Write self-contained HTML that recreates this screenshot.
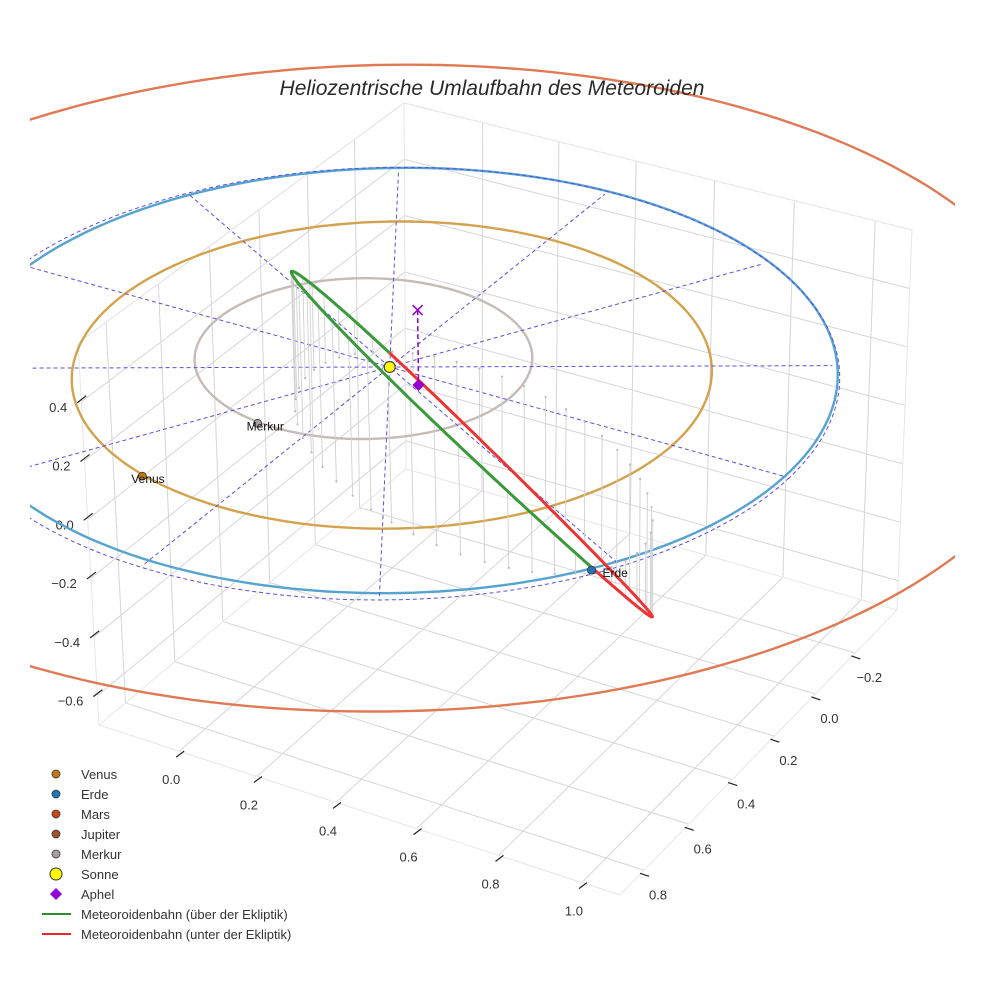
<!DOCTYPE html>
<html><head><meta charset="utf-8">
<style>
html,body{margin:0;padding:0;background:#fff;}
svg{display:block;font-family:"Liberation Sans",sans-serif;}
</style></head>
<body>
<svg id="chart" width="984" height="984" viewBox="0 0 984 984" xmlns="http://www.w3.org/2000/svg">
<defs><clipPath id="sceneClip"><rect x="30" y="0" width="925" height="984"/></clipPath></defs>
<rect width="984" height="984" fill="#fff"/>
<g id="axes"></g>
<g id="scene" clip-path="url(#sceneClip)"></g>
<text x="492" y="95" text-anchor="middle" font-size="21" font-style="italic" fill="#2a2a2a">Heliozentrische Umlaufbahn des Meteoroiden</text>
<g id="legend"></g>
</svg>
<script>
// ---- data ----
const xTicks = [0, 0.2, 0.4, 0.6, 0.8, 1.0];
const yTicks = [-0.2, 0, 0.2, 0.4, 0.6, 0.8];
const zTicks = [-0.6, -0.4, -0.2, 0, 0.2, 0.4];
const xTickLabels = ["0.0", "0.2", "0.4", "0.6", "0.8", "1.0"];
const yTickLabels = ["\u22120.2", "0.0", "0.2", "0.4", "0.6", "0.8"];
const zTickLabels = ["\u22120.6", "\u22120.4", "\u22120.2", "0.0", "0.2", "0.4"];
const zGrid = [-0.6, -0.4, -0.2, 0, 0.2, 0.4, 0.6];
const xRange = [-0.21, 1.09];
const yRange = [-0.415, 0.905];
const zRange = [-0.7, 0.6];

const planetNames = ["Merkur", "Venus", "Erde", "Mars"];
const planetA = [0.387, 0.723, 1.0, 1.524];
const planetE = [0.2056, 0.0068, 0.0167, 0.05];
const planetVarpi = [10, 131, 103, 59];
const planetLon = [108, 107, 33.6, 200];
const orbitColors = ["#c4bcb8", "#d4a24c", "#56a3cf", "#e07a55"];
const markerColors = ["#a8a0a0", "#c07a10", "#1f77b4", "#c8481a"];
const showLabel = [true, true, true, false];

const radialAngles = [0, 30, 60, 90, 120, 150];
const radialRadius = 1.0;
const refCircleRadius = 1.015;

const meteorCenter = [0.37, 0.27, 0.06];
const meteorU = [0.41, -0.058, -0.45];
const meteorV = [0.307, 0.362, 0.196];

const sunPos = [0, 0, 0];
const aphelPos = [0.10, 0.04, 0];
const aphelMarkPos = [0.10, 0.04, 0.26];

// ---- projection (box corners on screen, perspective homography) ----
const F = {A:[406,469], B:[897,610], C:[620,895], D:[99,725]};
const T = {A:[404,103], B:[912,230], C:[615,495], D:[78,343]};
function homog(Q){
  const [x0,y0]=Q.A,[x1,y1]=Q.B,[x2,y2]=Q.C,[x3,y3]=Q.D;
  const dx1=x1-x2,dx2=x3-x2,dx3=x0-x1+x2-x3,dy1=y1-y2,dy2=y3-y2,dy3=y0-y1+y2-y3;
  const den=dx1*dy2-dy1*dx2;
  const g=(dx3*dy2-dy3*dx2)/den, h=(dx1*dy3-dy1*dx3)/den;
  return {a:x1-x0+g*x1,b:x3-x0+h*x3,c:x0,d:y1-y0+g*y1,e:y3-y0+h*y3,f:y0,g,h};
}
const HF=homog(F), HT=homog(T);
function ap(H,u,v){const w=H.g*u+H.h*v+1;return [(H.a*u+H.b*v+H.c)/w,(H.d*u+H.e*v+H.f)/w];}
function proj(x,y,z){
  const u=(x-xRange[0])/(xRange[1]-xRange[0]);
  const v=(y-yRange[0])/(yRange[1]-yRange[0]);
  const w=(z-zRange[0])/(zRange[1]-zRange[0]);
  const f=ap(HF,u,v), t=ap(HT,u,v);
  return [f[0]+w*(t[0]-f[0]), f[1]+w*(t[1]-f[1])];
}
const NS="http://www.w3.org/2000/svg";
function mk(tag,attrs,parent){const e=document.createElementNS(NS,tag);for(const k in attrs)e.setAttribute(k,attrs[k]);parent.appendChild(e);return e;}
function line3(p,q,attrs,parent){const a=proj(...p),b=proj(...q);return mk('line',Object.assign({x1:a[0],y1:a[1],x2:b[0],y2:b[1]},attrs),parent);}
function pathFrom(pts){return pts.map((p,i)=>(i?'L':'M')+p[0].toFixed(1)+' '+p[1].toFixed(1)).join(' ');}

const scene=document.getElementById('scene');
const axes=document.getElementById('axes');
const [x0,x1]=xRange,[y0,y1]=yRange,[z0,z1]=zRange;
const gridStyle={stroke:'#d6d6d6','stroke-width':1};

// grid
const grid=mk('g',{},axes);


xTicks.forEach(xt=>{
  let l=line3([xt,y0,z0],[xt,y1,z0],gridStyle,grid);
  
  
  l=line3([xt,y0,z0],[xt,y0,z1],gridStyle,grid);
  
  
});
yTicks.forEach(yt=>{
  let l=line3([x0,yt,z0],[x1,yt,z0],gridStyle,grid);
  
  
  l=line3([x0,yt,z0],[x0,yt,z1],gridStyle,grid);
  
  
});
zGrid.forEach(zt=>{
  let l=line3([x0,y0,zt],[x0,y1,zt],gridStyle,grid);
  
  
  l=line3([x0,y0,zt],[x1,y0,zt],gridStyle,grid);
  
  
});
const edgeStyle={stroke:'#e6e6e6','stroke-width':1};
[[[x0,y0,z0],[x1,y0,z0]],[[x0,y0,z0],[x0,y1,z0]],[[x1,y0,z0],[x1,y1,z0]],[[x0,y1,z0],[x1,y1,z0]],
 [[x0,y0,z0],[x0,y0,z1]],[[x1,y0,z0],[x1,y0,z1]],[[x0,y1,z0],[x0,y1,z1]],
 [[x0,y0,z1],[x1,y0,z1]],[[x0,y0,z1],[x0,y1,z1]]].forEach(e=>{
  const l=line3(e[0],e[1],edgeStyle,grid);
  
  
});

// ticks
const tickStyle={stroke:'#222','stroke-width':1.2};
xTicks.forEach((xt,i)=>{
  const e=proj(xt,y1,z0);
  let l=mk('line',Object.assign({x1:e[0]-3,y1:e[1]+6,x2:e[0]+5,y2:e[1]},tickStyle),axes);
  
  
  const t=mk('text',{x:e[0]-8,y:e[1]+33,'text-anchor':'middle','font-size':13,fill:'#333'},axes);
  t.textContent=xTickLabels[i];
  
  
});
yTicks.forEach((yt,i)=>{
  const e=proj(x1,yt,z0);
  let l=mk('line',Object.assign({x1:e[0]-4,y1:e[1]+3,x2:e[0]+5,y2:e[1]+6},tickStyle),axes);
  
  
  const t=mk('text',{x:e[0]+14,y:e[1]+29,'text-anchor':'middle','font-size':13,fill:'#333'},axes);
  t.textContent=yTickLabels[i];
  
  
});
zTicks.forEach((zt,i)=>{
  const e=proj(x0,y1,zt);
  let l=mk('line',Object.assign({x1:e[0]+5,y1:e[1]-6,x2:e[0]-4,y2:e[1]+1},tickStyle),axes);
  
  
  const t=mk('text',{x:e[0]-14,y:e[1]+10,'text-anchor':'end','font-size':13,fill:'#333'},axes);
  t.textContent=zTickLabels[i];
  
  
});

// orbits
function orbitPts(a,e,varpi,n){
  const b=a*Math.sqrt(1-e*e), w=varpi*Math.PI/180, pts=[];
  for(let i=0;i<=n;i++){const E=2*Math.PI*i/n;const xo=a*Math.cos(E)-a*e, yo=b*Math.sin(E);
    pts.push(proj(xo*Math.cos(w)-yo*Math.sin(w), xo*Math.sin(w)+yo*Math.cos(w), 0));}
  return pts;
}
planetNames.forEach((nm,i)=>{
  const p=mk('path',{d:pathFrom(orbitPts(planetA[i],planetE[i],planetVarpi[i],240)),fill:'none',stroke:orbitColors[i],'stroke-width':2.4},scene);
  
  
});
const rc=[];for(let i=0;i<=240;i++){const t=2*Math.PI*i/240;rc.push(proj(refCircleRadius*Math.cos(t),refCircleRadius*Math.sin(t),0));}
let refc=mk('path',{d:pathFrom(rc),fill:'none',stroke:'#5a4fe0','stroke-width':1,'stroke-dasharray':'4,3'},scene);


radialAngles.forEach(ang=>{
  const r=ang*Math.PI/180;
  const l=line3([radialRadius*Math.cos(r),radialRadius*Math.sin(r),0],[-radialRadius*Math.cos(r),-radialRadius*Math.sin(r),0],{stroke:'#5a4fe0','stroke-width':1,'stroke-dasharray':'4,3'},scene);
  
  
});

// meteoroid orbit
function mpt(t){return [0,1,2].map(k=>meteorCenter[k]+meteorU[k]*Math.cos(t)+meteorV[k]*Math.sin(t));}
const drops=mk('g',{},scene);


for(let i=0;i<48;i++){
  const p=mpt(2*Math.PI*i/48);
  const l=line3(p,[p[0],p[1],0],{stroke:'#d0d0d0','stroke-width':0.9},drops);
  
  
  const f=proj(p[0],p[1],0);
  const d=mk('circle',{cx:f[0],cy:f[1],r:1.1,fill:'#bbb'},drops);
  
  
}
let segs=[],cur=null;
for(let i=0;i<=360;i++){
  const p=mpt(2*Math.PI*i/360), above=p[2]>=0;
  if(!cur||cur.above!==above){ if(cur) cur.pts.push(proj(...p)); cur={above,pts:[]}; segs.push(cur);}
  cur.pts.push(proj(...p));
}
segs.forEach(s=>{
  const p=mk('path',{d:pathFrom(s.pts),fill:'none',stroke:s.above?'#3a9a3a':'#ee3333','stroke-width':3,'stroke-linejoin':'round'},scene);
  
  
});

// planets
planetNames.forEach((nm,i)=>{
  const L=planetLon[i]*Math.PI/180, r=planetA[i];
  const s=proj(r*Math.cos(L),r*Math.sin(L),0);
  const c=mk('circle',{cx:s[0],cy:s[1],r:4,fill:markerColors[i],stroke:'#333','stroke-width':0.8},scene);
  
  
  if(showLabel[i]){
    const t=mk('text',{x:s[0]-(nm==='Erde'?-11:11),y:s[1]+7,'font-size':12,fill:'#111'},scene);
    t.textContent=nm;
    
    
  }
});
// aphel
const apx=proj(...aphelPos), am=proj(...aphelMarkPos);
let al=mk('line',{x1:am[0],y1:am[1],x2:apx[0],y2:apx[1],stroke:'#9400d3','stroke-width':1.5,'stroke-dasharray':'5,3'},scene);


let ax=mk('path',{d:`M${am[0]-5} ${am[1]-5}L${am[0]+5} ${am[1]+5}M${am[0]+5} ${am[1]-5}L${am[0]-5} ${am[1]+5}`,stroke:'#9400d3','stroke-width':1.5},scene);


let ad=mk('path',{d:`M${apx[0]} ${apx[1]-6}L${apx[0]+6} ${apx[1]}L${apx[0]} ${apx[1]+6}L${apx[0]-6} ${apx[1]}Z`,fill:'#9400d3'},scene);


// sun
const sp=proj(...sunPos);
let sc=mk('circle',{cx:sp[0],cy:sp[1],r:5.5,fill:'#ffff00',stroke:'#444','stroke-width':1.2},scene);



// legend
const legend=document.getElementById('legend');
const legItems=[
 ['Venus','dot','#c07a10'],['Erde','dot','#1f77b4'],['Mars','dot','#c8481a'],['Jupiter','dot','#a0522d'],
 ['Merkur','dot','#a8a0a0'],['Sonne','sun','#ffff00'],['Aphel','diamond','#9400d3'],
 ['Meteoroidenbahn (über der Ekliptik)','line','#2e8b2e'],['Meteoroidenbahn (unter der Ekliptik)','line','#e8262b']];
legItems.forEach((it,i)=>{
  const y=774+i*20;
  const g=mk('g',{},legend);
  
  
  if(it[1]==='dot') mk('circle',{cx:56,cy:y,r:4,fill:it[2],stroke:'#333','stroke-width':0.8},g);
  else if(it[1]==='sun') mk('circle',{cx:56,cy:y,r:6,fill:it[2],stroke:'#333','stroke-width':1},g);
  else if(it[1]==='diamond') mk('path',{d:`M56 ${y-6}L62 ${y}L56 ${y+6}L50 ${y}Z`,fill:it[2]},g);
  else mk('line',{x1:42,y1:y,x2:71,y2:y,stroke:it[2],'stroke-width':2},g);
  const t=mk('text',{x:81,y:y+5,'font-size':13,fill:'#333'},g);
  t.textContent=it[0];
});
</script>
</body></html>
